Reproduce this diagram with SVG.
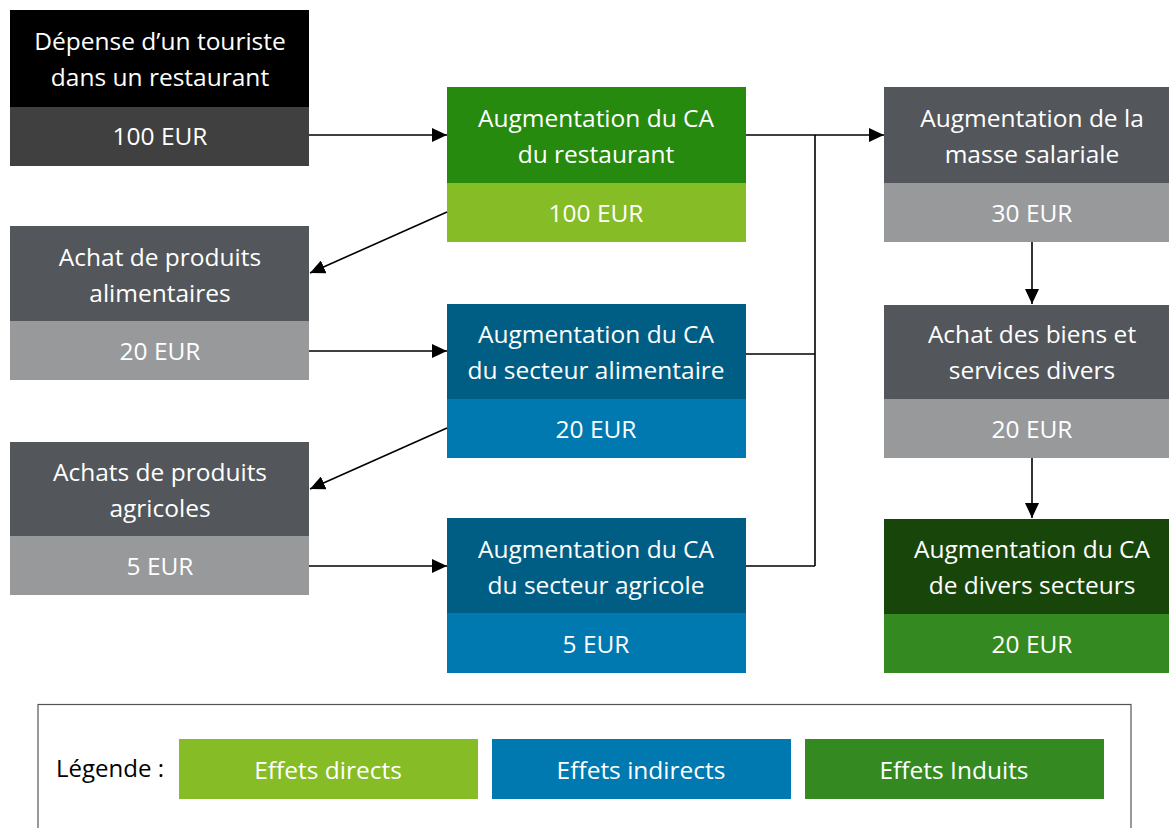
<svg xmlns="http://www.w3.org/2000/svg" width="1169" height="828" viewBox="0 0 1169 828">
<style>
text{font-family:"Open Sans","Liberation Sans",sans-serif;font-size:24.5px;fill:#fff;text-anchor:middle}
.lg{fill:#000;text-anchor:start;font-size:24px}
.ln{stroke:#000;stroke-width:1.6;fill:none}
</style>
<defs>
<marker id="ah" viewBox="0 0 15 14" refX="15" refY="7" markerWidth="15" markerHeight="14" markerUnits="userSpaceOnUse" orient="auto"><path d="M0,0L15,7L0,14z" fill="#000"/></marker>
</defs>
<rect width="1169" height="828" fill="#fff"/>
<g id="depense">
<rect x="10" y="10" width="299" height="97" fill="#000"/>
<rect x="10" y="107" width="299" height="59" fill="#404040"/>
<text x="160" y="50">Dépense d’un touriste</text>
<text x="160" y="86">dans un restaurant</text>
<text x="160" y="145">100 EUR</text>
</g>
<g id="ca-restaurant">
<rect x="447" y="87" width="299" height="96" fill="#268a0e"/>
<rect x="447" y="183" width="299" height="59" fill="#86bc25"/>
<text x="596" y="127">Augmentation du CA</text>
<text x="596" y="163">du restaurant</text>
<text x="596" y="222">100 EUR</text>
</g>
<g id="achat-alimentaires">
<rect x="10" y="226" width="299" height="95" fill="#53565a"/>
<rect x="10" y="321" width="299" height="59" fill="#97999b"/>
<text x="160" y="266">Achat de produits</text>
<text x="160" y="302">alimentaires</text>
<text x="160" y="360">20 EUR</text>
</g>
<g id="ca-alimentaire">
<rect x="447" y="304" width="299" height="95" fill="#005e85"/>
<rect x="447" y="399" width="299" height="59" fill="#0079b0"/>
<text x="596" y="343">Augmentation du CA</text>
<text x="596" y="379">du secteur alimentaire</text>
<text x="596" y="438">20 EUR</text>
</g>
<g id="achats-agricoles">
<rect x="10" y="442" width="299" height="94" fill="#53565a"/>
<rect x="10" y="536" width="299" height="59" fill="#97999b"/>
<text x="160" y="481">Achats de produits</text>
<text x="160" y="517">agricoles</text>
<text x="160" y="575">5 EUR</text>
</g>
<g id="ca-agricole">
<rect x="447" y="518" width="299" height="95" fill="#005e85"/>
<rect x="447" y="613" width="299" height="60" fill="#0079b0"/>
<text x="596" y="558">Augmentation du CA</text>
<text x="596" y="594">du secteur agricole</text>
<text x="596" y="653">5 EUR</text>
</g>
<g id="masse-salariale">
<rect x="884" y="87" width="285" height="96" fill="#53565a"/>
<rect x="884" y="183" width="285" height="59" fill="#97999b"/>
<text x="1032" y="127">Augmentation de la</text>
<text x="1032" y="163">masse salariale</text>
<text x="1032" y="222">30 EUR</text>
</g>
<g id="achat-biens">
<rect x="884" y="305" width="285" height="94" fill="#53565a"/>
<rect x="884" y="399" width="285" height="59" fill="#97999b"/>
<text x="1032" y="343">Achat des biens et</text>
<text x="1032" y="379">services divers</text>
<text x="1032" y="438">20 EUR</text>
</g>
<g id="ca-divers">
<rect x="884" y="519" width="285" height="95" fill="#18450a"/>
<rect x="884" y="614" width="285" height="59" fill="#348a20"/>
<text x="1032" y="558">Augmentation du CA</text>
<text x="1032" y="594">de divers secteurs</text>
<text x="1032" y="653">20 EUR</text>
</g>
<g id="connectors">
<path class="ln" d="M309,135H447" marker-end="url(#ah)"/>
<path class="ln" d="M746,135H884" marker-end="url(#ah)"/>
<path class="ln" d="M815,135V566"/>
<path class="ln" d="M746,354H815"/>
<path class="ln" d="M746,566H815"/>
<path class="ln" d="M447,212L310,273" marker-end="url(#ah)"/>
<path class="ln" d="M447,428L310,489" marker-end="url(#ah)"/>
<path class="ln" d="M309,351H447" marker-end="url(#ah)"/>
<path class="ln" d="M309,566H447" marker-end="url(#ah)"/>
<path class="ln" d="M1032,242V304" marker-end="url(#ah)"/>
<path class="ln" d="M1032,458V518" marker-end="url(#ah)"/>
</g>
<g id="legende">
<rect x="38" y="704.5" width="1093" height="140" fill="none" stroke="#555" stroke-width="1.2"/>
<text class="lg" x="56" y="777">Légende :</text>
<rect x="179" y="739" width="299" height="60" fill="#86bc25"/>
<text x="328" y="779">Effets directs</text>
<rect x="492" y="739" width="299" height="60" fill="#0079b0"/>
<text x="641" y="779">Effets indirects</text>
<rect x="805" y="739" width="299" height="60" fill="#348a20"/>
<text x="954" y="779">Effets Induits</text>
</g>
</svg>
